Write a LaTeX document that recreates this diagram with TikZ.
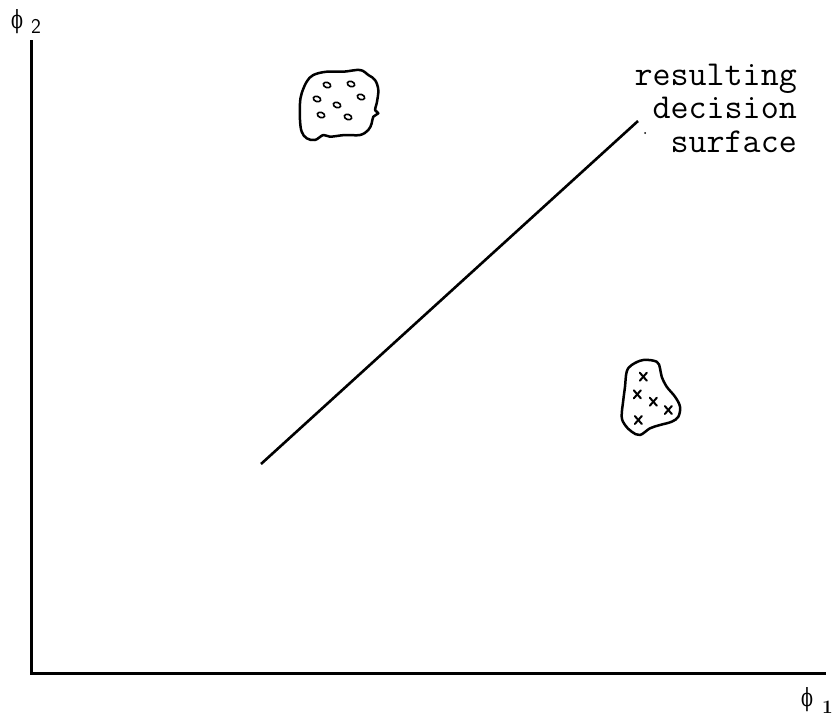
\documentclass[tikz,border=0pt]{standalone}
\usepackage{graphicx}
\usepackage{fontspec}
\newfontfamily\phifont{DejaVu Serif}
\begin{document}
\begin{tikzpicture}[x=1pt,y=-1pt,
  axisline/.style={line width=3pt},
  blobline/.style={line width=2.5pt,line join=round},
  ovalmark/.style={line width=1.6pt},
  crossmark/.style={line width=2pt,line cap=round},
  labeltext/.style={inner sep=0pt,text height=16pt,text depth=2pt,font=\fontsize{35}{35}\selectfont\ttfamily},
  axislabel/.style={inner sep=0pt,font=\fontsize{25}{25}\selectfont\phifont}]
\useasboundingbox (0,0) rectangle (834,720);
% axes
\coordinate (top) at (31,40);
\coordinate (origin) at (31,673);
\coordinate (right) at (826,673);
\draw[axisline] (top) -- (origin) -- (right);
% axis labels
\node[axislabel,anchor=base west] (phitwo) at (11,28) {\scalebox{0.7}[1]{ϕ}\hspace{8pt}\raisebox{-5pt}{\fontsize{21}{21}\selectfont\sffamily 2}};
\node[axislabel,anchor=base west] (phione) at (801,706) {\scalebox{0.7}[1]{ϕ}\hspace{9pt}\raisebox{-7pt}{\fontsize{19}{19}\selectfont\rmfamily\bfseries 1}};
% decision surface
\coordinate (dlow) at (261,464);
\coordinate (dhigh) at (638,121);
\draw[axisline,line width=2.6pt] (dlow) -- (dhigh);
% label
\node[labeltext,anchor=base east] (lresulting) at (797,85) {resulting};
\node[labeltext,anchor=base east] (ldecision) at (797,118) {decision};
\node[labeltext,anchor=base east] (lsurface) at (797,152) {surface};
\fill (645,133) circle (1);
% circle cluster
\draw[blobline] plot[smooth cycle,tension=0.6] coordinates {
 (306.7,81.7) (313.3,75) (326.7,71.7) (343.3,71.7) (360,70) (368.3,75) (375,80)
 (378.3,90) (376.7,103.3) (375,110) (378.3,113.3) (373.3,116.7) (371.7,123.3)
 (368.3,130) (360,135) (345,135) (330,136.7) (323.3,135) (315,140) (306.7,138.3)
 (301.7,131.7) (300,120) (300,103.3) (301.7,93.3)};
\foreach \px/\py in {327/85,351/84,317/99,361/97,337/105,321/115,348/117}{
  \draw[ovalmark,rotate around={-20:(\px,\py)}] (\px,\py) ellipse (3.8 and 2.6);
}
% cross cluster
\draw[blobline] plot[smooth cycle,tension=0.6] coordinates {
 (631.7,365) (643.3,360) (656.7,361.7) (660,368.3) (661.7,376.7) (666.7,386.7)
 (675,396.7) (680,406.7) (678.3,416.7) (671.7,421.7) (660,425) (650,428.3)
 (640,435) (631.7,431.7) (625,425) (621.7,416.7) (623.3,400) (625,386.7) (626.7,371.7)};
\foreach \px/\py in {643.3/376.7,637.3/394.3,653.3/401.7,668.3/410,638.3/420}{
  \draw[crossmark] (\px-3.5,\py-4) -- (\px+3.5,\py+4);
  \draw[crossmark] (\px+3.5,\py-4) -- (\px-3.5,\py+4);
}
\end{tikzpicture}
\end{document}
